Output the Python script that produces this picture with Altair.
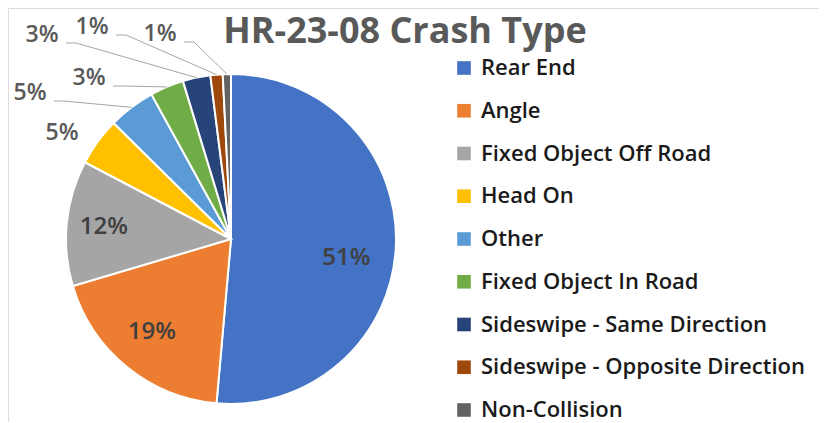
import math
import altair as alt
import pandas as pd

# ---- data ----
categories = ["Rear End", "Angle", "Fixed Object Off Road", "Head On", "Other",
              "Fixed Object In Road", "Sideswipe - Same Direction",
              "Sideswipe - Opposite Direction", "Non-Collision"]
shares = [51.4, 19.0, 12.3, 4.7, 4.6, 3.3, 2.7, 1.2, 0.8]
colors = ["#4472C4", "#ED7D31", "#A5A5A5", "#FFC000", "#5B9BD5",
          "#70AD47", "#264478", "#9E480E", "#636363"]
title_text = "HR-23-08 Crash Type"

# ---- layout (pixels) ----
W, H = 811, 414          # chart size
CX, CY = 223, 231        # pie centre inside the chart
R = 165                  # pie radius
FONT = "Open Sans"

# inside labels: radius factor + nudge ; outside labels: offset from centre
inside_layout = {0: (0.70, (0, 14)), 1: (0.70, (-6, 4)), 2: (0.75, (-4, 0))}
outside_layout = {3: (-169, -106), 4: (-201, -146), 5: (-142, -161),
                  6: (-189, -204), 7: (-139, -212), 8: (-71, -205)}
leader = {4, 5, 6, 7, 8}

total = sum(shares)
pie_df = pd.DataFrame({"category": categories, "share": shares,
                       "order": list(range(len(categories)))})

in_rows, out_rows, line_rows = [], [], []
cum = 0.0
for i, (c, s) in enumerate(zip(categories, shares)):
    a0 = cum / total * 2 * math.pi
    cum += s
    a1 = cum / total * 2 * math.pi
    mid = (a0 + a1) / 2
    ux, uy = math.sin(mid), -math.cos(mid)
    lab = f"{int(s / total * 100 + 0.5)}%"
    if i in inside_layout:
        f, (dx, dy) = inside_layout[i]
        in_rows.append({"x": ux * R * f + dx, "y": uy * R * f + dy, "t": lab})
    else:
        ox, oy = outside_layout[i]
        out_rows.append({"x": ox, "y": oy, "t": lab})
        if i in leader:
            sx, sy = ox + 24, oy + 8
            pts = [(sx, sy), (sx + 10, sy), (ux * R, uy * R)]
            for k, (px, py) in enumerate(pts):
                line_rows.append({"seg": c, "ord": k, "x": px, "y": py})

in_df = pd.DataFrame(in_rows)
out_df = pd.DataFrame(out_rows)
line_df = pd.DataFrame(line_rows)

xs = alt.Scale(domain=[-CX, W - CX], nice=False, zero=False)
ys = alt.Scale(domain=[-CY, H - CY], nice=False, zero=False, reverse=True)

pie = alt.Chart(pie_df).mark_arc(outerRadius=R, stroke="white", strokeWidth=2).encode(
    theta=alt.Theta("share:Q", stack=True),
    color=alt.Color("category:N", sort=categories,
                    scale=alt.Scale(domain=categories, range=colors),
                    legend=alt.Legend(title=None, orient="none", legendX=445, legendY=49,
                                      symbolType="square", symbolSize=185,
                                      symbolStrokeWidth=0, labelFont=FONT,
                                      labelFontSize=22, labelFontWeight=600,
                                      labelColor="#1a1a1a",
                                      labelOffset=6, rowPadding=20.75,
                                      labelLimit=400, padding=0)),
    order=alt.Order("order:Q"),
    x=alt.value(CX), y=alt.value(CY),
)

lines = alt.Chart(line_df).mark_line(color="#A6A6A6", strokeWidth=1).encode(
    x=alt.X("x:Q", scale=xs, axis=None),
    y=alt.Y("y:Q", scale=ys, axis=None),
    detail="seg:N", order="ord:Q",
)

in_text = alt.Chart(in_df).mark_text(font=FONT, fontSize=24, fontWeight=600,
                                     color="#404040", baseline="middle").encode(
    x=alt.X("x:Q", scale=xs, axis=None), y=alt.Y("y:Q", scale=ys, axis=None), text="t:N")

out_text = alt.Chart(out_df).mark_text(font=FONT, fontSize=23, fontWeight=600,
                                       color="#595959", baseline="middle").encode(
    x=alt.X("x:Q", scale=xs, axis=None), y=alt.Y("y:Q", scale=ys, axis=None), text="t:N")

title = alt.Chart(pd.DataFrame({"t": [title_text]})).mark_text(
    font=FONT, fontSize=36, fontWeight="bold", color="#595959",
    align="center", baseline="alphabetic").encode(
    x=alt.value(397), y=alt.value(35), text="t:N")

chart = alt.layer(pie, lines, in_text, out_text, title).properties(
    width=W, height=H, autosize="none", padding=0,
).configure_view(stroke=None).configure(background="white")

chart.save("out.html", embed_options={"renderer": "svg", "actions": False})
